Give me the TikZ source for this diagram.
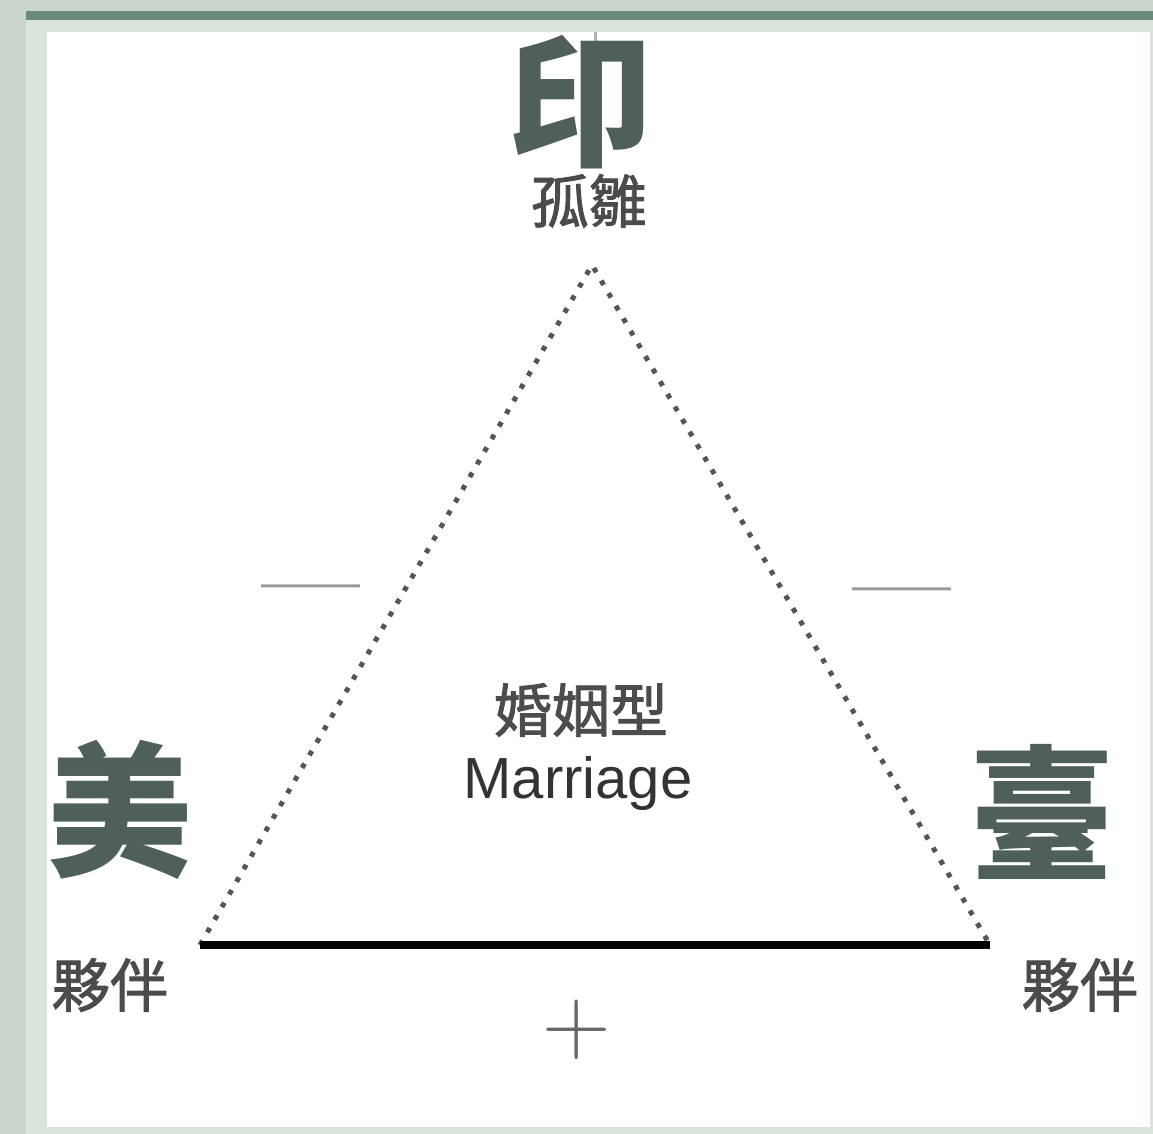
\documentclass[tikz,border=0pt]{standalone}
\usepackage{fontspec}
\newfontfamily\cjk{Noto Sans CJK TC}
\newfontfamily\cjkmid{Noto Sans CJK TC}[FakeBold=1.6]
\setsansfont{Liberation Sans}
\definecolor{frameouter}{RGB}{203,213,203}
\definecolor{frameinner}{RGB}{218,228,218}
\definecolor{frameline}{RGB}{106,138,122}
\definecolor{sealgreen}{RGB}{78,96,88}
\definecolor{labelgrey}{RGB}{75,75,75}
\definecolor{signgrey}{RGB}{150,150,150}
\definecolor{dotgrey}{RGB}{85,85,85}
\tikzset{
  bigchar/.style={text=sealgreen, inner sep=0pt, font=\cjk\bfseries\fontsize{145}{145}\selectfont},
  role/.style={text=labelgrey, inner sep=0pt, font=\cjkmid\fontsize{58}{60}\selectfont},
  sign/.style={text=signgrey, inner sep=0pt},
  dotline/.style={draw=dotgrey, line width=5pt, dash pattern=on 5pt off 9.6pt}
}
\begin{document}
\begin{tikzpicture}[x=1pt, y=-1pt]
   \useasboundingbox (0,0) rectangle (1153,1134);
   % frame
   \fill[frameouter] (0,0) rectangle (1153,1134);
   \fill[frameinner] (26,11) rectangle (1153,1134);
   \fill[frameline] (26,11) rectangle (1153,20);
   \fill[white] (47,32) rectangle (1150,1127);
   \draw[gray!60, line width=3pt] (595,32) -- (595,48);
   % triangle
   \coordinate (apex) at (592,265);
   \coordinate (left) at (200,945);
   \coordinate (right) at (990,945);
   \draw[dotline] (left) -- (apex) -- (right);
   \draw[line width=7.5pt] (left) -- (right);
   % big characters
   \node[bigchar] (yin) at (580,102) {印};
   \node[bigchar] (mei) at (120,810) {美};
   \node[bigchar] (tai) at (1042,812) {臺};
   % labels
   \node[role] (orphan) at (589,201) {孤雛};
   \node[role] (partnerL) at (110,985) {夥伴};
   \node[role] (partnerR) at (1080,985) {夥伴};
   \node[sign, font=\bfseries\fontsize{88}{88}\selectfont] (minusL) at (311,598) {\textemdash};
   \node[sign, font=\bfseries\fontsize{88}{88}\selectfont] (minusR) at (902,601) {\textemdash};
   \node[sign, text=black!60, font=\fontsize{95}{95}\selectfont] (plus) at (577,1030) {+};
   \node[role, text=black!70] (kind) at (581,710) {婚姻型};
   \node[text=black!80, inner sep=0pt, font=\sffamily\fontsize{58}{60}\selectfont] (kindEn) at (578,783) {Marriage};
\end{tikzpicture}
\end{document}
